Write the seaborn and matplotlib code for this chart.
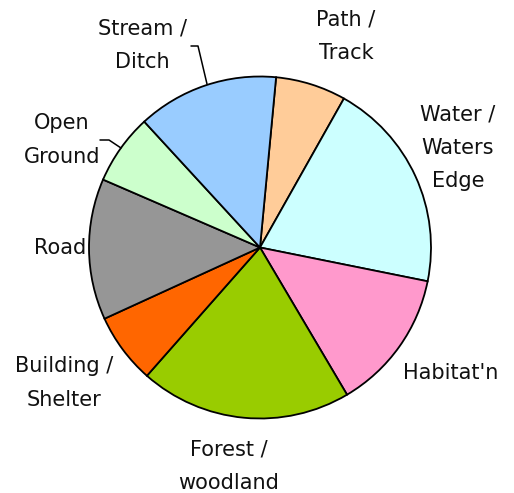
import matplotlib
matplotlib.use("Agg")
import matplotlib.pyplot as plt
import seaborn as sns

# data: counts per habitat type, clockwise from the top
categories = ["Path /\nTrack", "Water /\nWaters\nEdge", "Habitat'n", "Forest /\nwoodland",
              "Building /\nShelter", "Road", "Open\nGround", "Stream /\nDitch"]
counts = [1, 3, 2, 3, 1, 2, 1, 2]
colors = ["#FFCC99", "#CCFFFF", "#FF99CC", "#99CC00",
          "#FF6600", "#969696", "#CCFFCC", "#99CCFF"]

# label anchor points (pixels, top-left origin)
label_pos = [(346, 36), (458, 148), (451, 373), (229, 466),
             (64, 383), (60, 248), (62, 140), (142, 45)]

sns.set_style("white")
plt.rcParams["font.family"] = ["DejaVu Sans"]

W, H = 514, 493
fig = plt.figure(figsize=(W / 100, H / 100), dpi=100)
ax = fig.add_axes([0, 0, 1, 1])

def py(y):
    return H - y

ax.pie(counts, colors=sns.color_palette(colors), startangle=84.6, counterclock=False,
       center=(260, py(247.5)), radius=171, frame=True,
       wedgeprops=dict(edgecolor="black", linewidth=1.3))
ax.set_xlim(0, W)
ax.set_ylim(0, H)
ax.set_aspect("equal")
ax.axis("off")

for lab, (x, y) in zip(categories, label_pos):
    ax.text(x, py(y), lab, ha="center", va="center", multialignment="center",
            fontsize=15, linespacing=1.84, color="#111111")

# leader lines
ax.plot([191, 198, 207], [py(46), py(46), py(84)], color="black", lw=1.1)
ax.plot([100, 109, 121], [py(140), py(140), py(148)], color="black", lw=1.1)

fig.savefig("out.png", dpi=100)
